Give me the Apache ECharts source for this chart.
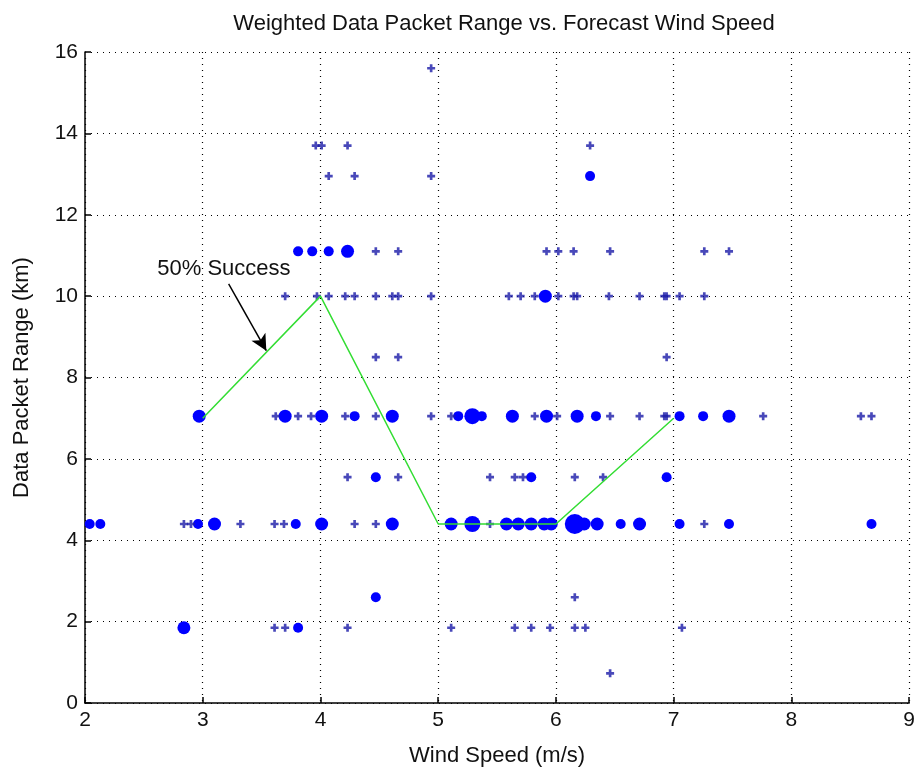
<!DOCTYPE html>
<html><head><meta charset="utf-8">
<script src="https://cdn.jsdelivr.net/npm/echarts@6/dist/echarts.min.js"></script>
<style>html,body{margin:0;padding:0;background:#fff}#c{width:918px;height:773px}</style>
</head><body><div id="c"></div>
<script>
const titleText = 'Weighted Data Packet Range vs. Forecast Wind Speed';
const xTicks = [2,3,4,5,6,7,8,9];
const yTicks = [0,2,4,6,8,10,12,14,16];
// [wind speed, range, weight] weight: 1 = single, 2..5 larger circles
const row44 = [[2.04,4.4,2],[2.13,4.4,2],[2.84,4.4,1],[2.90,4.4,1],[2.96,4.4,2],[3.10,4.4,3],[3.32,4.4,1],[3.61,4.4,1],[3.69,4.4,1],[3.79,4.4,2],[4.01,4.4,3],[4.29,4.4,1],[4.47,4.4,1],[4.61,4.4,3],[5.11,4.4,3],[5.29,4.4,4],[5.44,4.4,1],[5.58,4.4,3],[5.68,4.4,3],[5.79,4.4,3],[5.90,4.4,3],[5.96,4.4,3],[6.16,4.4,5],[6.24,4.4,3],[6.35,4.4,3],[6.55,4.4,2],[6.71,4.4,3],[7.05,4.4,2],[7.26,4.4,1],[7.47,4.4,2],[8.68,4.4,2]];
const row70 = [[2.97,7.05,3],[3.62,7.05,1],[3.70,7.05,3],[3.81,7.05,1],[3.92,7.05,1],[4.01,7.05,3],[4.21,7.05,1],[4.29,7.05,2],[4.47,7.05,1],[4.61,7.05,3],[4.94,7.05,1],[5.11,7.05,1],[5.17,7.05,2],[5.29,7.05,4],[5.37,7.05,2],[5.63,7.05,3],[5.82,7.05,1],[5.92,7.05,3],[6.01,7.05,1],[6.18,7.05,3],[6.34,7.05,2],[6.46,7.05,1],[6.71,7.05,1],[6.92,7.05,1],[6.94,7.05,1],[7.05,7.05,2],[7.25,7.05,2],[7.47,7.05,3],[7.76,7.05,1],[8.59,7.05,1],[8.68,7.05,1]];
const row100 = [[3.70,10,1],[3.97,10,1],[4.07,10,1],[4.21,10,1],[4.29,10,1],[4.47,10,1],[4.61,10,1],[4.66,10,1],[4.94,10,1],[5.60,10,1],[5.70,10,1],[5.82,10,1],[5.91,10,3],[6.02,10,1],[6.15,10,1],[6.18,10,1],[6.45,10,1],[6.71,10,1],[6.92,10,1],[6.94,10,1],[7.05,10,1],[7.26,10,1]];
const row111 = [[3.81,11.1,2],[3.93,11.1,2],[4.07,11.1,2],[4.23,11.1,3],[4.47,11.1,1],[4.66,11.1,1],[5.92,11.1,1],[6.02,11.1,1],[6.15,11.1,1],[6.46,11.1,1],[7.26,11.1,1],[7.47,11.1,1]];
const rowHigh = [[3.96,13.7,1],[4.01,13.7,1],[4.23,13.7,1],[6.29,13.7,1],[4.07,12.95,1],[4.29,12.95,1],[4.94,12.95,1],[6.29,12.95,2],[4.94,15.6,1]];
const rowMid = [[4.47,8.5,1],[4.66,8.5,1],[6.94,8.5,1],[4.23,5.55,1],[4.47,5.55,2],[4.66,5.55,1],[5.44,5.55,1],[5.65,5.55,1],[5.72,5.55,1],[5.79,5.55,2],[6.16,5.55,1],[6.40,5.55,1],[6.94,5.55,2]];
const rowLow = [[4.47,2.6,2],[6.16,2.6,1],[2.84,1.85,3],[3.61,1.85,1],[3.70,1.85,1],[3.81,1.85,2],[4.23,1.85,1],[5.11,1.85,1],[5.65,1.85,1],[5.79,1.85,1],[5.95,1.85,1],[6.16,1.85,1],[6.25,1.85,1],[7.07,1.85,1],[6.46,0.73,1]];
const successX = [3,4,5,6,7];
const successY = [7,10,4.4,4.4,7];
const annotationText = '50% Success';
const arrowFrom = [3.22,10.3];
const arrowTo = [3.54,8.66];
const textPos = [3.18,10.67];

const all = [].concat(row44,row70,row100,row111,rowHigh,rowMid,rowLow);
const singles = all.filter(d=>d[2]===1);
const circles = all.filter(d=>d[2]>1);
const sizeOf = w => [0,8,10,13,16,20][w];
const FONT = "'Liberation Sans',Arial,sans-serif";
const chart = echarts.init(document.getElementById('c'));
chart.setOption({
  animation:false,
  backgroundColor:'#fff',
  title:{text:titleText,left:499,top:8,textAlign:'center',textStyle:{fontFamily:FONT,fontSize:22,fontWeight:'normal',color:'#111'}},
  grid:{left:85,right:5,top:52,bottom:70},
  xAxis:{type:'value',min:2,max:9,interval:1,name:'Wind Speed (m/s)',nameLocation:'middle',nameGap:42,
    nameTextStyle:{fontFamily:FONT,fontSize:22,color:'#111'},
    axisLine:{onZero:false,lineStyle:{color:'#000',width:1.5}},axisTick:{inside:true,length:6,lineStyle:{color:'#000',width:1.5}},
    axisLabel:{fontFamily:FONT,fontSize:21,color:'#111',margin:7},
    splitLine:{show:true,lineStyle:{color:'#000',type:[1,5],width:1.2}}},
  yAxis:{type:'value',min:0,max:16,interval:2,name:'Data Packet Range (km)',nameLocation:'middle',nameGap:52,
    nameTextStyle:{fontFamily:FONT,fontSize:22,color:'#111'},
    axisLine:{onZero:false,lineStyle:{color:'#000',width:1.5}},axisTick:{inside:true,length:6,lineStyle:{color:'#000',width:1.5}},
    axisLabel:{fontFamily:FONT,fontSize:21,color:'#111',margin:7},
    splitLine:{show:true,lineStyle:{color:'#000',type:[1,5],width:1.2}}},
  series:[
    {type:'scatter',data:circles,symbol:'circle',symbolSize:d=>sizeOf(d[2]),itemStyle:{color:'#0000ff',opacity:1},z:3},
    {type:'scatter',data:singles,symbol:'path://M2,0h2v2h2v2h-2v2h-2v-2h-2v-2h2z',symbolSize:8,itemStyle:{color:'#1a1aa8'},z:3},
    {type:'line',data:successX.map((x,i)=>[x,successY[i]]),symbol:'none',lineStyle:{color:'#33dd33',width:1.5},z:4,
      markLine:{silent:true,symbol:['none','arrow'],symbolSize:[12,16],lineStyle:{color:'#000',type:'solid',width:1.5},label:{show:false},
        data:[[{coord:arrowFrom},{coord:arrowTo}]]},
      markPoint:{symbol:'circle',symbolSize:0,data:[{coord:textPos,label:{show:true,formatter:annotationText,position:'inside',fontFamily:FONT,fontSize:22,color:'#111'}}]}}
  ]
});
</script></body></html>
